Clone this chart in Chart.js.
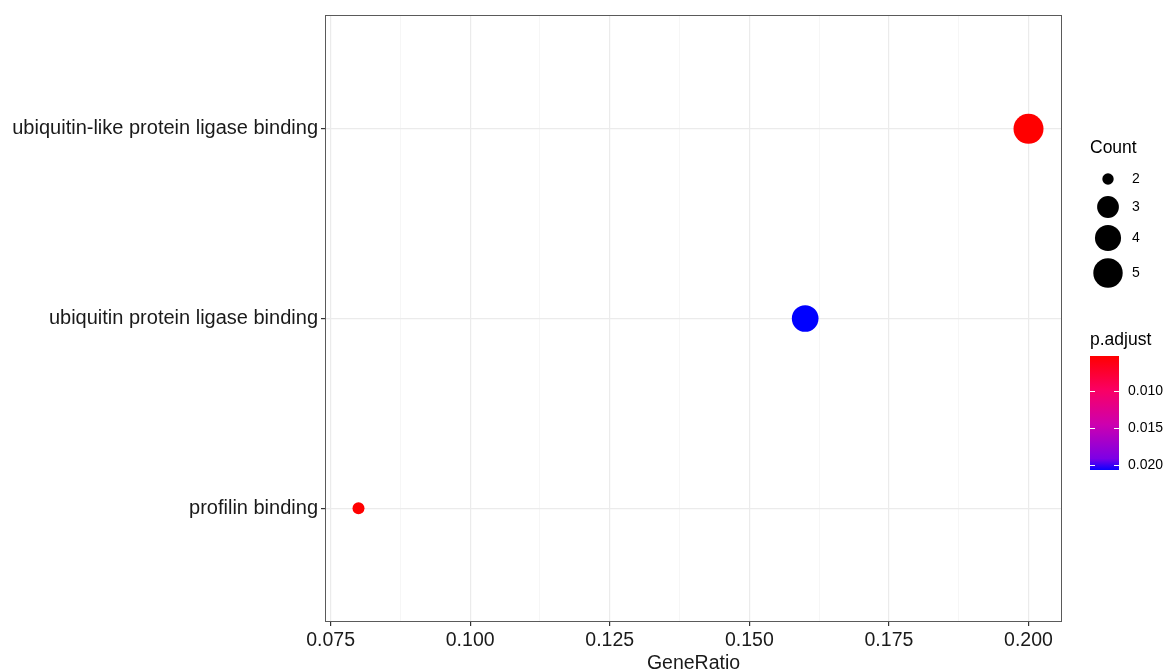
<!DOCTYPE html>
<html>
<head>
<meta charset="utf-8">
<script src="https://cdn.jsdelivr.net/npm/chart.js@4"></script>
<style>
  html, body { margin: 0; padding: 0; background: #fff; }
  #wrap { width: 1171px; height: 669px; position: relative; }
</style>
</head>
<body>
<div id="wrap"><canvas id="dot-chart" width="1171" height="669"></canvas></div>
<script>
// ─── Data ──────────────────────────────────────────────────────

const TERMS = ['profilin binding', 'ubiquitin protein ligase binding', 'ubiquitin-like protein ligase binding'];
const GENE_RATIO = [0.08, 0.16, 0.2];
const COUNTS = [2, 4, 5];
const P_ADJUST = [0.0053, 0.0207, 0.0053];

const X_MAJOR = [0.075, 0.1, 0.125, 0.15, 0.175, 0.2];
const X_MINOR = [0.0875, 0.1125, 0.1375, 0.1625, 0.1875];
const COUNT_KEYS = [2, 3, 4, 5];
const P_KEYS = [0.01, 0.015, 0.02];

const FONT = '"Liberation Sans", Arial, sans-serif';
const P_MIN = Math.min(...P_ADJUST);
const P_MAX = Math.max(...P_ADJUST);
const C_MIN = Math.min(...COUNT_KEYS);
const C_MAX = Math.max(...COUNT_KEYS);

// ─── Helpers ───────────────────────────────────────────────────

// area palette, like ggplot's scale_size: radius 6..15 px
const radiusFor = c => 6 + 9 * Math.sqrt((c - C_MIN) / (C_MAX - C_MIN));

const GRAD_STOPS = [
  [0, [255, 0, 0]],
  [0.3, [250, 0, 100]],
  [0.6, [205, 0, 175]],
  [0.9, [125, 0, 230]],
  [1, [10, 0, 255]],
];

function colorFor(p) {
  const t = (p - P_MIN) / (P_MAX - P_MIN || 1);
  if (t >= 1) return 'rgb(0,0,255)';
  for (let i = 1; i < GRAD_STOPS.length; i++) {
    const [t1, c1] = GRAD_STOPS[i];
    const [t0, c0] = GRAD_STOPS[i - 1];
    if (t <= t1) {
      const f = (t - t0) / (t1 - t0);
      const c = c0.map((v, k) => Math.round(v + (c1[k] - v) * f));
      return `rgb(${c[0]},${c[1]},${c[2]})`;
    }
  }
  return 'rgb(0,0,255)';
}

const isMajor = v => X_MAJOR.some(m => Math.abs(m - v) < 1e-9);

// ─── Legend + border plugin ────────────────────────────────────

const panelExtras = {
  id: 'panelExtras',
  afterDatasetsDraw(chart) {
    const { ctx, chartArea: a } = chart;
    ctx.save();
    ctx.strokeStyle = '#5a5a5a';
    ctx.lineWidth = 1;
    ctx.strokeRect(a.left + 0.5, a.top + 0.5, a.right - a.left - 1, a.bottom - a.top - 1);
    ctx.restore();
  },
  afterDraw(chart) {
    const { ctx } = chart;
    ctx.save();
    ctx.fillStyle = '#000';
    ctx.textBaseline = 'middle';
    ctx.textAlign = 'left';

    // Count legend
    ctx.font = `17.5px ${FONT}`;
    ctx.fillText('Count', 1090, 148);
    const keyY = [179, 207, 238, 273];
    ctx.font = `14px ${FONT}`;
    COUNT_KEYS.forEach((c, i) => {
      ctx.beginPath();
      ctx.arc(1108, keyY[i], radiusFor(c) - 0.3, 0, Math.PI * 2);
      ctx.fill();
      ctx.fillText(String(c), 1132, keyY[i]);
    });

    // p.adjust colour bar
    ctx.font = `17.5px ${FONT}`;
    ctx.fillText('p.adjust', 1090, 340);
    const bx = 1090, bw = 29, top = 356, h = 114;
    const g = ctx.createLinearGradient(0, top, 0, top + h);
    GRAD_STOPS.forEach(([t, c]) => g.addColorStop(t, `rgb(${c[0]},${c[1]},${c[2]})`));
    ctx.fillStyle = g;
    ctx.fillRect(bx, top, bw, h);

    ctx.font = `14px ${FONT}`;
    P_KEYS.forEach(v => {
      const y = Math.round(top + (v - P_MIN) / (P_MAX - P_MIN) * h) + 0.5;
      ctx.strokeStyle = '#fff';
      ctx.lineWidth = 1;
      ctx.beginPath();
      ctx.moveTo(bx, y); ctx.lineTo(bx + 5, y);
      ctx.moveTo(bx + bw - 5, y); ctx.lineTo(bx + bw, y);
      ctx.stroke();
      ctx.fillStyle = '#000';
      ctx.fillText(v.toFixed(3), 1128, y);
    });
    ctx.restore();
  },
};

// ─── Chart ─────────────────────────────────────────────────────

function renderDotChart() {
  const canvas = document.getElementById('dot-chart');
  const points = TERMS.map((t, i) => ({ x: GENE_RATIO[i], y: i + 1, r: radiusFor(COUNTS[i]) }));

  new Chart(canvas, {
    type: 'bubble',
    data: {
      datasets: [{
        data: points,
        backgroundColor: P_ADJUST.map(colorFor),
        borderWidth: 0,
        hoverBorderWidth: 0,
      }],
    },
    options: {
      responsive: false,
      animation: false,
      events: [],
      layout: { padding: { left: 0, top: 14, right: 109, bottom: 0 } },
      plugins: { legend: { display: false }, tooltip: { enabled: false } },
      scales: {
        x: {
          type: 'linear',
          min: 0.074,
          max: 0.206,
          afterBuildTicks: s => {
            s.ticks = [...X_MAJOR, ...X_MINOR].sort((a, b) => a - b).map(v => ({ value: v }));
          },
          afterFit: s => { s.height = 47; },
          ticks: {
            autoSkip: false,
            maxRotation: 0,
            padding: 3,
            color: '#1a1a1a',
            font: { family: FONT, size: 19.5 },
            callback: v => isMajor(v) ? v.toFixed(3) : '',
          },
          grid: {
            color: c => isMajor(c.tick.value) ? '#EBEBEB' : '#F4F4F4',
            lineWidth: c => isMajor(c.tick.value) ? 1.2 : 0.8,
            tickColor: c => isMajor(c.tick.value) ? '#333' : 'rgba(0,0,0,0)',
            tickLength: 4,
          },
          border: { display: false },
          title: {
            display: true,
            text: 'GeneRatio',
            color: '#1a1a1a',
            font: { family: FONT, size: 19.5 },
            padding: { top: 0, bottom: -6 },
          },
        },
        y: {
          type: 'linear',
          min: 0.4,
          max: 3.6,
          afterBuildTicks: s => {
            s.ticks = TERMS.map((t, i) => ({ value: i + 1 }));
          },
          afterFit: s => { s.width = 325; },
          ticks: {
            autoSkip: false,
            padding: 3,
            color: '#1a1a1a',
            font: { family: FONT, size: 20 },
            callback: v => TERMS[Math.round(v) - 1] || '',
          },
          grid: {
            color: '#EBEBEB',
            lineWidth: 1.2,
            tickColor: '#333',
            tickLength: 4,
          },
          border: { display: false },
        },
      },
    },
    plugins: [panelExtras],
  });
}

renderDotChart();
</script>
</body>
</html>
